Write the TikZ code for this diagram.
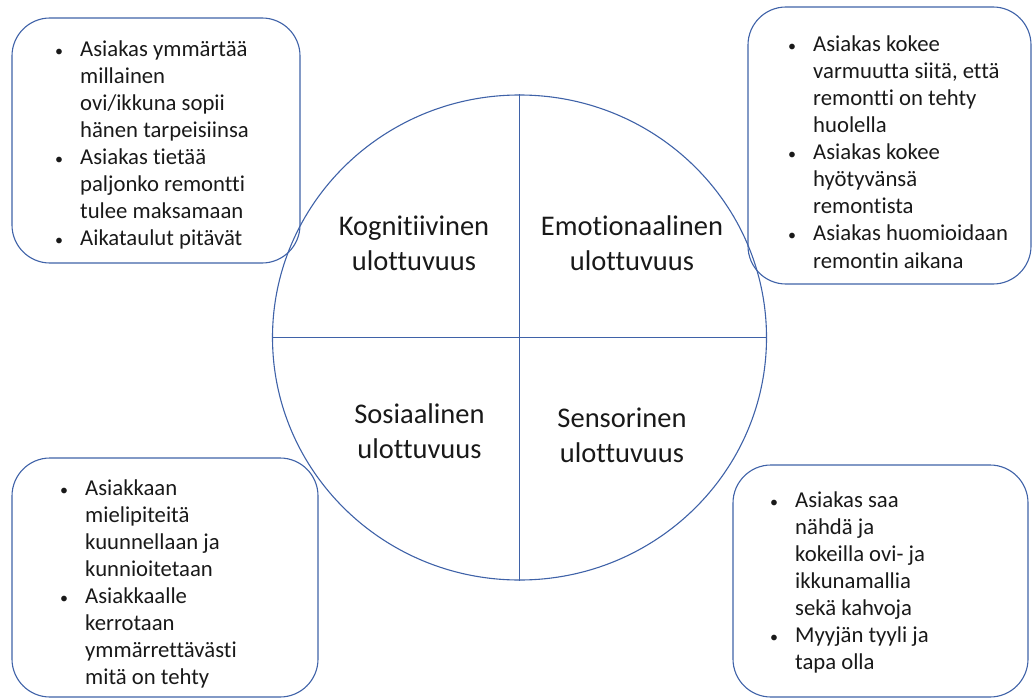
\documentclass[tikz,border=0pt]{standalone}
\usepackage{fontspec}
\setmainfont{Carlito}[Ligatures=NoCommon]
\usepackage{xcolor}
\usepackage{tikz}
\usetikzlibrary{positioning,shapes.geometric}
\definecolor{rim}{HTML}{3F62A8}
\newcommand{\bul}{\llap{{\fontsize{16}{16}\selectfont\textbullet}\hspace{17pt}}}
\newcommand{\topstrut}{\rule{0pt}{20pt}}
\newcommand{\capstrut}{\rule{0pt}{24pt}}
\tikzset{
  box/.style={draw=rim, line width=1.1pt, rounded corners=38pt, inner sep=0pt},
  wheel/.style={draw=rim, line width=1.1pt, ellipse, inner sep=0pt},
  cut/.style={draw=rim, line width=1.1pt},
  txt/.style={anchor=north west, align=left, inner sep=0pt, text=black!90, font=\fontsize{22.7}{27.1}\selectfont},
  dim/.style={anchor=north, align=center, inner sep=0pt, text=black!90, font=\fontsize{28.5}{35}\selectfont},
}
\begin{document}
\begin{tikzpicture}[x=1pt,y=-1pt]
\useasboundingbox (0,0) rectangle (1032,698);
% boxes
\node[box, minimum width=288pt, minimum height=245pt] (cogbox) at (156,140.5) {};
\node[box, minimum width=283pt, minimum height=277pt] (emobox) at (889.5,145.5) {};
\node[box, minimum width=306pt, minimum height=239pt] (sosbox) at (165,577.5) {};
\node[box, minimum width=295pt, minimum height=232pt] (senbox) at (880.5,581) {};
% circle
\node[wheel, minimum width=494pt, minimum height=485pt] (circ) at (519.5,337.5) {};
\draw[cut] (circ.north) -- (circ.south);
\draw[cut, line width=1.6pt] (circ.west) -- (circ.east);
% quadrant labels
\node[dim] (cog) at (414,211) {\capstrut Kognitiivinen\\ulottuvuus};
\node[dim] (emo) at (632,211) {\capstrut Emotionaalinen\\ulottuvuus};
\node[dim] (sos) at (419.5,399) {\capstrut Sosiaalinen\\ulottuvuus};
\node[dim] (sen) at (622,403) {\capstrut Sensorinen\\ulottuvuus};
% box texts
\node[txt] (cogtxt) at (80,36) {\topstrut\bul Asiakas ymmärtää\\millainen\\ovi/ikkuna sopii\\hänen tarpeisiinsa\\\bul Asiakas tietää\\paljonko remontti\\tulee maksamaan\\\bul Aikataulut pitävät};
\node[txt] (emotxt) at (813,31) {\topstrut\bul Asiakas kokee\\varmuutta siitä, että\\remontti on tehty\\huolella\\\bul Asiakas kokee\\hyötyvänsä\\remontista\\\bul Asiakas huomioidaan\\remontin aikana};
\node[txt] (sostxt) at (85,475) {\topstrut\bul Asiakkaan\\mielipiteitä\\kuunnellaan ja\\kunnioitetaan\\\bul Asiakkaalle\\kerrotaan\\ymmärrettävästi\\mitä on tehty};
\node[txt] (sentxt) at (795,487) {\topstrut\bul Asiakas saa\\nähdä ja\\kokeilla ovi- ja\\ikkunamallia\\sekä kahvoja\\\bul Myyjän tyyli ja\\tapa olla};
\end{tikzpicture}
\end{document}
